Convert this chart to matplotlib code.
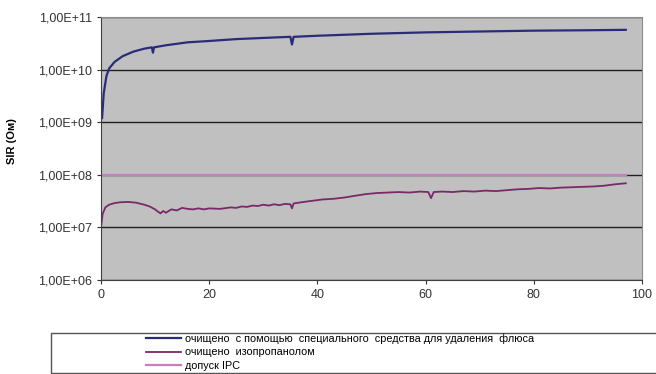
import numpy as np
import matplotlib
matplotlib.use('Agg')
import matplotlib.pyplot as plt
from matplotlib.ticker import FixedLocator, FuncFormatter, NullLocator
from matplotlib.patches import Rectangle

plt.rcParams['font.family'] = ['Liberation Sans', 'DejaVu Sans']

# очищено с помощью специального средства
x_flux = [0.2, 0.5, 1.0, 1.5, 2.5, 4, 6, 8, 9.4, 9.6, 9.8, 12, 16, 20, 25, 30,
          35, 35.3, 35.6, 40, 50, 60, 70, 80, 90, 97]
y_flux = [1.2e9, 3.5e9, 7.5e9, 1.05e10, 1.4e10, 1.8e10, 2.2e10, 2.5e10, 2.65e10,
          2.1e10, 2.65e10, 2.9e10, 3.3e10, 3.5e10, 3.8e10, 4.0e10, 4.2e10, 3.0e10,
          4.2e10, 4.4e10, 4.8e10, 5.1e10, 5.3e10, 5.5e10, 5.6e10, 5.7e10]

# очищено изопропанолом
x_ipa = [0, 0.3, 0.8, 1.5, 2.5, 3.5, 5, 6.5, 8, 9, 10, 10.5, 11, 11.5, 12, 13, 14,
         15, 16, 17, 18, 19, 20, 22, 24, 25, 26, 27, 28, 29, 30, 31, 32, 33, 34, 35,
         35.3, 35.6, 37, 39, 41, 43, 45, 47, 49, 51, 53, 55, 57, 59, 60.5, 61, 61.5,
         63, 65, 67, 69, 71, 73, 75, 77, 79, 81, 83, 85, 87, 89, 91, 93, 95, 97]
y_ipa = [1.0e7, 1.8e7, 2.4e7, 2.7e7, 2.9e7, 3.0e7, 3.05e7, 2.95e7, 2.7e7, 2.5e7,
         2.2e7, 2.0e7, 1.85e7, 2.05e7, 1.9e7, 2.2e7, 2.1e7, 2.35e7, 2.25e7, 2.2e7,
         2.3e7, 2.2e7, 2.3e7, 2.25e7, 2.4e7, 2.35e7, 2.5e7, 2.45e7, 2.6e7, 2.55e7,
         2.7e7, 2.6e7, 2.75e7, 2.65e7, 2.8e7, 2.75e7, 2.3e7, 2.85e7, 3.0e7, 3.2e7,
         3.4e7, 3.5e7, 3.7e7, 4.0e7, 4.3e7, 4.5e7, 4.6e7, 4.7e7, 4.6e7, 4.8e7,
         4.7e7, 3.6e7, 4.7e7, 4.8e7, 4.7e7, 4.9e7, 4.8e7, 5.0e7, 4.9e7, 5.1e7,
         5.3e7, 5.4e7, 5.6e7, 5.5e7, 5.7e7, 5.8e7, 5.9e7, 6.0e7, 6.2e7, 6.6e7, 6.9e7]

# допуск IPC
x_ipc = [0, 97]
y_ipc = [1e8, 1e8]

labels = ['очищено  с помощью  специального  средства для удаления  флюса',
          'очищено  изопропанолом',
          'допуск IPC']

fig = plt.figure(figsize=(6.56, 3.74), dpi=100)
ax = fig.add_axes([101/656, 1 - 280/374, 541/656, 263/374])
ax.set_facecolor('#c0c0c0')
ax.set_yscale('log')
ax.set_xlim(0, 100)
ax.set_ylim(1e6, 1e11)

ax.yaxis.set_major_locator(FixedLocator([1e6, 1e7, 1e8, 1e9, 1e10, 1e11]))
ax.yaxis.set_minor_locator(NullLocator())
ax.yaxis.set_major_formatter(FuncFormatter(
    lambda v, p: '1,00E+%02d' % int(round(np.log10(v)))))
ax.set_xticks([0, 20, 40, 60, 80, 100])

ax.grid(True, axis='y', color='#202020', linewidth=1.0)
ax.set_axisbelow(True)

l1, = ax.plot(x_flux, y_flux, color='#2b2b7c', linewidth=1.6)
l2, = ax.plot(x_ipa, y_ipa, color='#7a2869', linewidth=1.3)
l3, = ax.plot(x_ipc, y_ipc, color='#c77fc0', linewidth=1.6)

for s in ['top', 'right']:
    ax.spines[s].set_color('#8c8c8c')
for s in ['left', 'bottom']:
    ax.spines[s].set_color('#404040')
ax.tick_params(labelsize=9, colors='#333333', length=3)
ax.set_ylabel('SIR (Ом)', fontsize=8, fontweight='bold')
ax.yaxis.set_label_coords(-0.155, 0.53)

# рамка легенды
fig.patches.append(Rectangle((51/656, 1/374), 610/656, 40/374,
                             transform=fig.transFigure, fill=False,
                             edgecolor='#555555', linewidth=1.0))
fig.legend([l1, l2, l3], labels, loc='upper left',
           bbox_to_anchor=(146/656, 1 - 333/374), frameon=False,
           fontsize=7.8, handlelength=3.2, handletextpad=0.4,
           labelspacing=0.35, borderpad=0.0, borderaxespad=0.0)

fig.savefig('out.png', dpi=100)
